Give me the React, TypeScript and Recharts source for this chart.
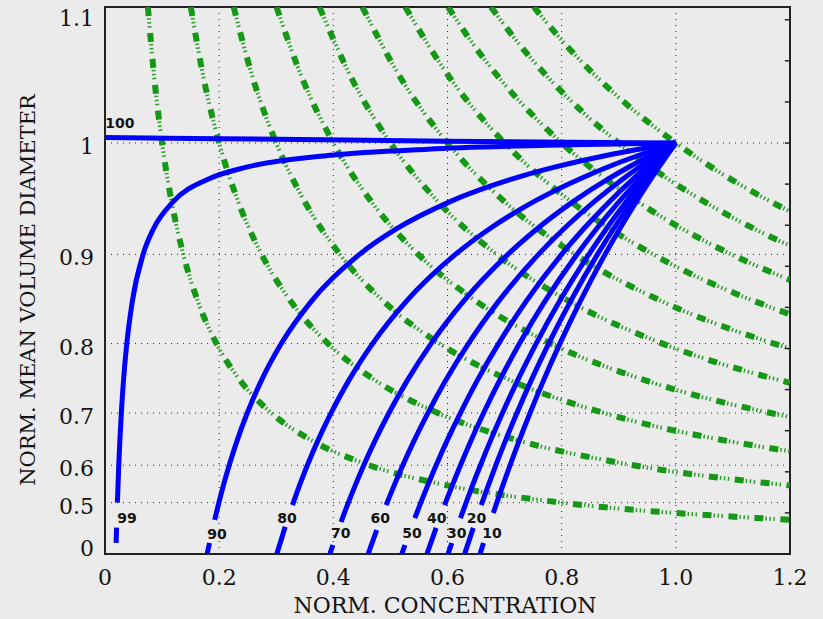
import { ComposedChart, Line, Scatter, XAxis, YAxis, CartesianGrid, ReferenceArea, ReferenceLine } from "recharts";

// x = normalised concentration, d = normalised mean volume diameter
const xTicks = [0, 0.2, 0.4, 0.6, 0.8, 1.0, 1.2];
const yTicks = [0, 0.5, 0.6, 0.7, 0.8, 0.9, 1.0, 1.1];
// right border: plain ticks every 0.1 of volume, no labels
const rightTicks = [0.1, 0.2, 0.3, 0.4, 0.5, 0.6, 0.7, 0.8, 0.9, 1.0, 1.1, 1.2, 1.3];

// blue curves, [x, d]; a null d marks the break under the label
const b100 = [[0, 1.0045], [0.3, 1.003], [0.6, 1.0015], [1, 1]];
const b99 = [[0.0195, 0.3], [0.0203, 0.4], [0.021, null], [0.0217, 0.5], [0.0241, 0.6], [0.0286, 0.7], [0.0324, 0.75], [0.0382, 0.8], [0.0478, 0.85], [0.0667, 0.9], [0.085, 0.925], [0.1196, 0.95], [0.1816, 0.97], [0.2477, 0.98], [0.395, 0.99], [0.5655, 0.995], [0.72, 0.9975], [1, 1]];
const b90 = [[0.1791, 0.1], [0.1831, 0.3], [0.187, null], [0.1921, 0.436], [0.1995, 0.5], [0.2073, 0.55], [0.2176, 0.6], [0.2311, 0.65], [0.2492, 0.7], [0.2739, 0.75], [0.3088, 0.8], [0.361, 0.85], [0.4458, 0.9], [0.5111, 0.925], [0.6045, 0.95], [0.714, 0.97], [0.7875, 0.98], [0.88, 0.99], [1, 1]];
const b80 = [[0.3012, 0.1], [0.3157, 0.405], [0.322, null], [0.3284, 0.492], [0.3406, 0.55], [0.3545, 0.6], [0.3725, 0.65], [0.3959, 0.7], [0.4269, 0.75], [0.4688, 0.8], [0.5274, 0.85], [0.6138, 0.9], [0.6738, 0.925], [0.7512, 0.95], [0.8315, 0.97], [0.8798, 0.98], [0.9354, 0.99], [1, 1]];
const b70 = [[0.3942, 0.1], [0.3993, 0.28], [0.406, null], [0.4135, 0.427], [0.4263, 0.5], [0.4382, 0.55], [0.4533, 0.6], [0.4727, 0.65], [0.4974, 0.7], [0.5294, 0.75], [0.5713, 0.8], [0.6275, 0.85], [0.7058, 0.9], [0.7571, 0.925], [0.8201, 0.95], [0.8816, 0.97], [0.9171, 0.98], [0.9563, 0.99], [1, 1]];
const b60 = [[0.4612, 0.1], [0.476, 0.388], [0.484, null], [0.4926, 0.492], [0.5064, 0.55], [0.5217, 0.6], [0.5411, 0.65], [0.5656, 0.7], [0.5967, 0.75], [0.6367, 0.8], [0.6891, 0.85], [0.7594, 0.9], [0.804, 0.925], [0.857, 0.95], [0.9073, 0.97], [0.9357, 0.98], [0.9665, 0.99], [1, 1]];
const b50 = [[0.5202, 0.1], [0.5255, 0.28], [0.534, null], [0.5428, 0.444], [0.5532, 0.5], [0.5652, 0.55], [0.5801, 0.6], [0.5989, 0.65], [0.6225, 0.7], [0.652, 0.75], [0.6895, 0.8], [0.7374, 0.85], [0.7999, 0.9], [0.8386, 0.925], [0.8838, 0.95], [0.9254, 0.97], [0.9486, 0.98], [0.9732, 0.99], [1, 1]];
const b40 = [[0.5642, 0.1], [0.5801, 0.399], [0.587, null], [0.5949, 0.492], [0.6082, 0.55], [0.6227, 0.6], [0.6407, 0.65], [0.6632, 0.7], [0.6911, 0.75], [0.7261, 0.8], [0.7702, 0.85], [0.8267, 0.9], [0.8612, 0.925], [0.9007, 0.95], [0.9367, 0.97], [0.9566, 0.98], [0.9776, 0.99], [1, 1]];
const b30 = [[0.6012, 0.1], [0.6075, 0.299], [0.615, null], [0.6227, 0.444], [0.6326, 0.5], [0.6437, 0.55], [0.6577, 0.6], [0.675, 0.65], [0.6963, 0.7], [0.7226, 0.75], [0.7553, 0.8], [0.796, 0.85], [0.8476, 0.9], [0.8784, 0.925], [0.9135, 0.95], [0.9453, 0.97], [0.9624, 0.98], [0.9806, 0.99], [1, 1]];
const b20 = [[0.6302, 0.1], [0.6452, 0.399], [0.652, null], [0.6591, 0.492], [0.6714, 0.55], [0.6847, 0.6], [0.7012, 0.65], [0.7216, 0.7], [0.7465, 0.75], [0.7772, 0.8], [0.8152, 0.85], [0.8627, 0.9], [0.891, 0.925], [0.9227, 0.95], [0.9512, 0.97], [0.9666, 0.98], [0.9828, 0.99], [1, 1]];
const b10 = [[0.6572, 0.1], [0.6631, 0.299], [0.672, null], [0.6803, 0.464], [0.6864, 0.5], [0.6968, 0.55], [0.7096, 0.6], [0.7253, 0.65], [0.7446, 0.7], [0.7681, 0.75], [0.7969, 0.8], [0.8323, 0.85], [0.876, 0.9], [0.9018, 0.925], [0.9307, 0.95], [0.9565, 0.97], [0.9702, 0.98], [0.9847, 0.99], [1, 1]];

// green curves, [x, d]
const g1 = [[0.0751, 1.1], [0.0864, 1.05], [0.1, 1.0], [0.1166, 0.95], [0.1372, 0.9], [0.1628, 0.85], [0.1953, 0.8], [0.237, 0.75], [0.2915, 0.7], [0.3641, 0.65], [0.463, 0.6], [0.6011, 0.55], [0.8, 0.5], [1.0974, 0.45], [1.2, 0.4368]];
const g2 = [[0.1503, 1.1], [0.1728, 1.05], [0.2, 1.0], [0.2333, 0.95], [0.2743, 0.9], [0.3257, 0.85], [0.3906, 0.8], [0.4741, 0.75], [0.5831, 0.7], [0.7283, 0.65], [0.9259, 0.6], [1.2, 0.5503]];
const g3 = [[0.2254, 1.1], [0.2591, 1.05], [0.3, 1.0], [0.3499, 0.95], [0.4115, 0.9], [0.4885, 0.85], [0.5859, 0.8], [0.7111, 0.75], [0.8747, 0.7], [1.0924, 0.65], [1.2, 0.63]];
const g4 = [[0.3005, 1.1], [0.3455, 1.05], [0.4, 1.0], [0.4666, 0.95], [0.5487, 0.9], [0.6513, 0.85], [0.7812, 0.8], [0.9481, 0.75], [1.1662, 0.7], [1.2, 0.6934]];
const g5 = [[0.3757, 1.1], [0.4319, 1.05], [0.5, 1.0], [0.5832, 0.95], [0.6859, 0.9], [0.8142, 0.85], [0.9766, 0.8], [1.1852, 0.75], [1.2, 0.7469]];
const g6 = [[0.4508, 1.1], [0.5183, 1.05], [0.6, 1.0], [0.6998, 0.95], [0.823, 0.9], [0.977, 0.85], [1.1719, 0.8], [1.2, 0.7937]];
const g7 = [[0.5259, 1.1], [0.6047, 1.05], [0.7, 1.0], [0.8165, 0.95], [0.9602, 0.9], [1.1398, 0.85], [1.2, 0.8355]];
const g8 = [[0.6011, 1.1], [0.644, 1.075], [0.691, 1.05], [0.7429, 1.025], [0.8, 1.0], [0.8631, 0.975], [0.9331, 0.95], [1.0108, 0.925], [1.0974, 0.9], [1.2, 0.8736]];
const g9 = [[0.6762, 1.1], [0.7245, 1.075], [0.7774, 1.05], [0.8357, 1.025], [0.9, 1.0], [0.971, 0.975], [1.0498, 0.95], [1.137, 0.925], [1.2, 0.9086]];
const g10 = [[0.7513, 1.1], [0.805, 1.075], [0.8638, 1.05], [0.9286, 1.025], [1.0, 1.0], [1.0789, 0.975], [1.1664, 0.95], [1.2, 0.941]];

const curveLabels = ["100", "99", "90", "80", "70", "60", "50", "40", "30", "20", "10"];
const labelX = [0.026, 0.0385, 0.196, 0.319, 0.413, 0.482, 0.538, 0.581, 0.616, 0.651, 0.678];
const labelD = [1.016, 0.444, 0.365, 0.444, 0.371, 0.444, 0.371, 0.444, 0.371, 0.444, 0.371];

const blueCurves = [b100, b99, b90, b80, b70, b60, b50, b40, b30, b20, b10];
const greenCurves = [g1, g2, g3, g4, g5, g6, g7, g8, g9, g10];

// the diameter axis is drawn on a volume (d^3) scale
const vol = (d: number) => d * d * d;
const toPts = (arr: (number | null)[][]) =>
  arr.map(([x, d]) => ({ x, y: d == null ? null : vol(d) }));

const labelPts = curveLabels.map((label, i) => ({ x: labelX[i], y: vol(labelD[i]), label }));

const FONT = "DejaVu Serif";
const INK = "#141414";

const XTick = (props: any) => {
  const { x, payload } = props;
  const v = payload.value;
  return (
    <text x={x} y={585} textAnchor="middle" fontFamily={FONT} fontSize={22} fill={INK}>
      {v === 0 ? "0" : v.toFixed(1)}
    </text>
  );
};

const YTick = (props: any) => {
  const { y, payload } = props;
  const d = Math.round(Math.cbrt(payload.value) * 10) / 10;
  const yy = Math.min(556, Math.max(26, y + 11));
  return (
    <text x={94} y={yy} textAnchor="end" fontFamily={FONT} fontSize={22} fill={INK}>
      {d === 0 ? "0" : d === 1 ? "1" : String(d)}
    </text>
  );
};

const CurveLabel = (props: any) => {
  const { cx, cy, payload } = props;
  return (
    <text x={cx} y={cy} textAnchor="middle" dominantBaseline="central" fontFamily="DejaVu Sans" fontWeight="bold" fontSize={14} fill={INK}>
      {payload.label}
    </text>
  );
};

const XTitle = () => (
  <text x={445} y={613} textAnchor="middle" fontFamily={FONT} fontSize={22} fill={INK}>
    NORM. CONCENTRATION
  </text>
);

const YTitle = () => (
  <text x={28} y={290} transform="rotate(-90, 28, 290)" textAnchor="middle" dominantBaseline="central" fontFamily={FONT} fontSize={21} fill={INK}>
    NORM. MEAN VOLUME DIAMETER
  </text>
);

export default function App() {
  const yMax = vol(1.1);
  return (
    <div style={{ position: "absolute", left: 0, top: 0, width: 823, height: 619, background: "#ebebeb" }}>
      <ComposedChart width={823} height={619} margin={{ top: 7, right: 33, bottom: 0, left: 0 }}>
        <CartesianGrid stroke="#222" strokeDasharray="1 5" />
        <XAxis
          type="number"
          dataKey="x"
          domain={[0, 1.2]}
          ticks={xTicks}
          interval={0}
          tick={XTick}
          axisLine={false}
          tickLine={false}
          height={65}
          allowDataOverflow
          label={{ content: XTitle }}
        />
        <YAxis
          type="number"
          dataKey="y"
          domain={[0, yMax]}
          ticks={yTicks.map(vol)}
          interval={0}
          tick={YTick}
          axisLine={false}
          tickLine={false}
          width={105}
          allowDataOverflow
          label={{ content: YTitle }}
        />
        {greenCurves.map((g, i) => (
          <Line
            key={`gt-${i}`}
            data={toPts(g)}
            dataKey="y"
            type="monotone"
            stroke="#159815"
            strokeWidth={6}
            strokeDasharray="9 17"
            dot={false}
            activeDot={false}
            isAnimationActive={false}
          />
        ))}
        {greenCurves.map((g, i) => (
          <Line
            key={`gs-${i}`}
            data={toPts(g)}
            dataKey="y"
            type="monotone"
            stroke="#2e9e2e"
            strokeWidth={4}
            strokeDasharray="0 11 1.5 2.5 1.5 2.5 1.5 5.5"
            dot={false}
            activeDot={false}
            isAnimationActive={false}
          />
        ))}
        {blueCurves.map((b, i) => (
          <Line
            key={`b-${i}`}
            data={toPts(b)}
            dataKey="y"
            type="monotone"
            stroke="#0000ff"
            strokeWidth={5}
            dot={false}
            activeDot={false}
            isAnimationActive={false}
          />
        ))}
        <Scatter data={labelPts} dataKey="y" shape={CurveLabel} isAnimationActive={false} />
        {rightTicks.map((t) => (
          <ReferenceLine
            key={`rt-${t}`}
            segment={[{ x: 1.191, y: t }, { x: 1.2, y: t }]}
            stroke="#222"
            strokeWidth={1.5}
          />
        ))}
        <ReferenceArea x1={0} x2={1.2} y1={0} y2={yMax} fill="none" stroke="#222" strokeWidth={2} />
      </ComposedChart>
    </div>
  );
}
